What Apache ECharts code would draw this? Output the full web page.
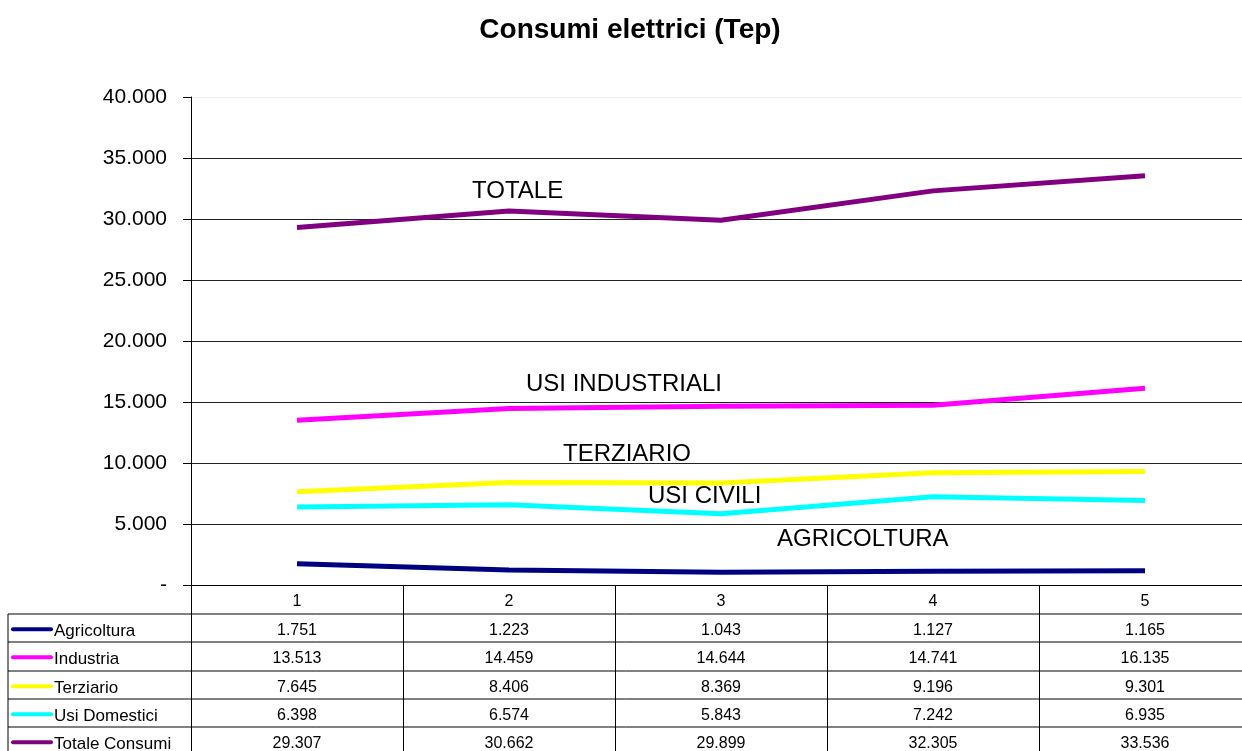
<!DOCTYPE html>
<html>
<head>
<meta charset="utf-8">
<script src="https://cdn.jsdelivr.net/npm/echarts@6/dist/echarts.min.js"></script>
<style>
  html, body { margin: 0; padding: 0; background: #fff; }
  #main { width: 1242px; height: 751px; }
</style>
</head>
<body>
<div id="main"></div>
<script>
// dati
const anni = ['1', '2', '3', '4', '5'];
const agricoltura = [1751, 1223, 1043, 1127, 1165];
const industria = [13513, 14459, 14644, 14741, 16135];
const terziario = [7645, 8406, 8369, 9196, 9301];
const usiDomestici = [6398, 6574, 5843, 7242, 6935];
const totaleConsumi = [29307, 30662, 29899, 32305, 33536];
const nomiSerie = ['Agricoltura', 'Industria', 'Terziario', 'Usi Domestici', 'Totale Consumi'];
const coloriSerie = ['#000080', '#ff00ff', '#ffff00', '#00ffff', '#800080'];
const etichette = [
  { testo: 'TOTALE', x: 472, y: 191 },
  { testo: 'USI INDUSTRIALI', x: 526, y: 384 },
  { testo: 'TERZIARIO', x: 563, y: 454 },
  { testo: 'USI CIVILI', x: 648, y: 496 },
  { testo: 'AGRICOLTURA', x: 777, y: 539 }
];

const valori = [agricoltura, industria, terziario, usiDomestici, totaleConsumi];
const font = 'Liberation Sans, Arial, sans-serif';

// separatore delle migliaia all'italiana
function fmt(v) {
  return String(v).replace(/\B(?=(\d{3})+(?!\d))/g, '.');
}

const chart = echarts.init(document.getElementById('main'));

// la linea dei 40.000 in alto è quasi invisibile
const coloriGriglia = ['#222', '#222', '#222', '#222', '#222', '#222', '#222', '#222', '#f2f2f2'];

const option = {
  animation: false,
  grid: { left: 191, right: -9, top: 97, bottom: 166, outerBoundsMode: 'none' },
  xAxis: {
    type: 'category',
    data: anni,
    boundaryGap: true,
    axisLine: { lineStyle: { color: '#000', width: 1 } },
    axisTick: { show: true, length: 166, lineStyle: { color: '#000' } },
    axisLabel: { margin: 9, fontFamily: font, fontSize: 16, color: '#000' }
  },
  yAxis: {
    type: 'value',
    min: 0,
    max: 40000,
    interval: 5000,
    axisLine: { show: true, lineStyle: { color: '#000' } },
    axisTick: { show: true, length: 8, lineStyle: { color: '#000' } },
    axisLabel: {
      margin: 24,
      fontFamily: font,
      fontSize: 21,
      color: '#000',
      formatter: v => (v === 0 ? '-' : fmt(v))
    },
    splitLine: { show: true, lineStyle: { color: coloriGriglia, width: 1 } }
  },
  series: valori.map((d, i) => ({
    name: nomiSerie[i],
    type: 'line',
    data: d,
    symbol: 'none',
    lineStyle: { color: coloriSerie[i], width: 5 },
    itemStyle: { color: coloriSerie[i] }
  }))
};

chart.setOption(option);

// titolo, etichette e tabella dati sotto il grafico
const grafica = [];
grafica.push({
  type: 'text',
  x: 630,
  y: 30,
  style: {
    text: 'Consumi elettrici (Tep)',
    font: 'bold 28px ' + font,
    fill: '#000',
    align: 'center',
    verticalAlign: 'middle'
  }
});

const xSinistra = 8;
const xDestra = chart.convertToPixel({ xAxisIndex: 0 }, 4) + 106;
const righeY = [614, 642, 671, 699, 727];
const altezzaRiga = 28.3;

righeY.forEach(y => {
  grafica.push({
    type: 'line',
    shape: { x1: xSinistra, y1: y, x2: xDestra, y2: y },
    style: { stroke: '#000', lineWidth: 1 }
  });
});
grafica.push({
  type: 'line',
  shape: { x1: xSinistra, y1: righeY[0], x2: xSinistra, y2: 751 },
  style: { stroke: '#000', lineWidth: 1 }
});

nomiSerie.forEach((nome, i) => {
  const yc = righeY[i] + altezzaRiga / 2;
  grafica.push({
    type: 'line',
    shape: { x1: 13, y1: yc + 1, x2: 51, y2: yc + 1 },
    style: { stroke: coloriSerie[i], lineWidth: 4, lineCap: 'round' }
  });
  grafica.push({
    type: 'text',
    x: 54,
    y: yc + 3,
    style: { text: nome, font: '17px ' + font, fill: '#000', verticalAlign: 'middle' }
  });
  valori[i].forEach((v, j) => {
    grafica.push({
      type: 'text',
      x: chart.convertToPixel({ xAxisIndex: 0 }, j),
      y: yc + 2,
      style: { text: fmt(v), font: '16px ' + font, fill: '#000', align: 'center', verticalAlign: 'middle' }
    });
  });
});

etichette.forEach(e => {
  grafica.push({
    type: 'text',
    x: e.x,
    y: e.y,
    style: { text: e.testo, font: '24px ' + font, fill: '#000', verticalAlign: 'middle' }
  });
});

chart.setOption({ graphic: grafica });
</script>
</body>
</html>
